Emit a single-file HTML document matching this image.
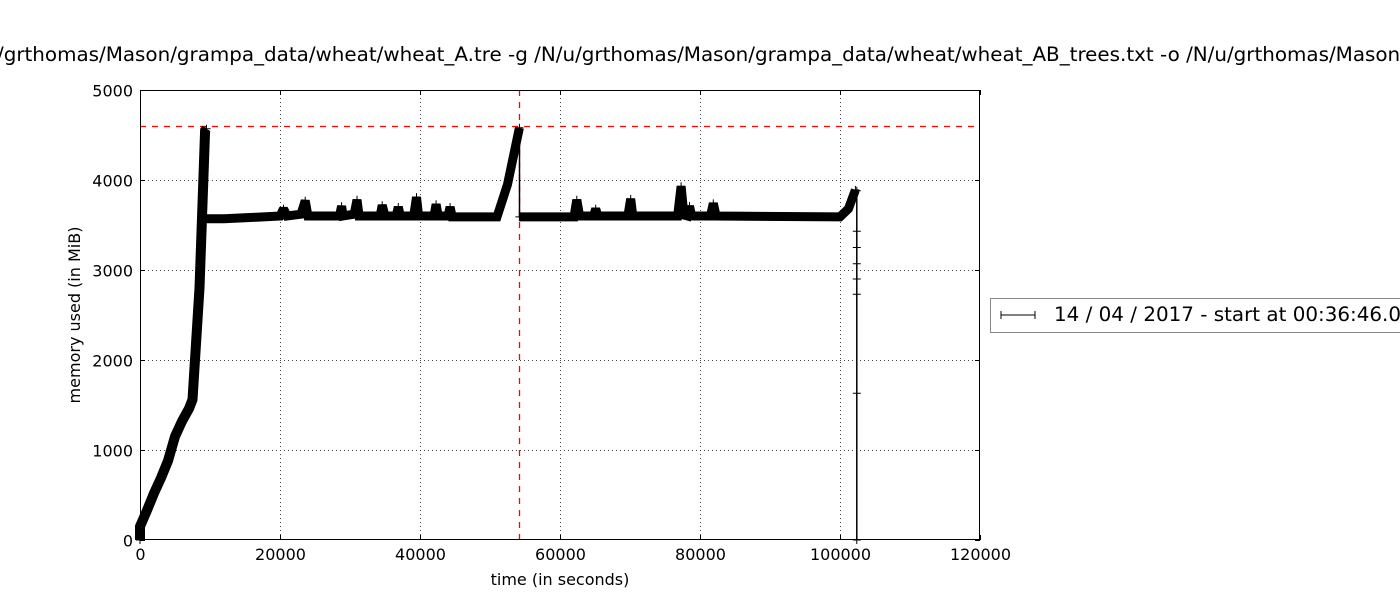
<!DOCTYPE html>
<html><head><meta charset="utf-8"><style>
html,body{margin:0;padding:0;background:#fff;width:1400px;height:600px;overflow:hidden}
text{font-family:"DejaVu Sans","Liberation Sans",sans-serif;fill:#000}
</style></head><body>
<svg id="chart" width="1400" height="600">
<text x="-3" y="61" font-size="19.9">/grthomas/Mason/grampa_data/wheat/wheat_A.tre -g /N/u/grthomas/Mason/grampa_data/wheat/wheat_AB_trees.txt -o /N/u/grthomas/Mason/grampa_data/wheat/out</text>
<g id="grid"></g><g id="marks"></g><g id="axes"></g>
<text x="560" y="585" font-size="16" text-anchor="middle">time (in seconds)</text>
<text transform="translate(80,315) rotate(-90)" font-size="16" text-anchor="middle">memory used (in MiB)</text>
<g>
<rect x="990.5" y="298.5" width="420" height="34" fill="#fff" stroke="#888"/>
<line x1="1001" y1="315" x2="1035" y2="315" stroke="#000"/>
<path d="M1001 311v8M1035 311v8" stroke="#000"/>
<text x="1054" y="321" font-size="19.9">14 / 04 / 2017 - start at 00:36:46.0</text>
</g>
</svg>
<script>
const xTicks=[0,20000,40000,60000,80000,100000,120000];
const yTicks=[0,1000,2000,3000,4000,5000];
const maxMem=4600;
const peakTime=54150;
const seg1T=[0,0,1000,2000,3000,4000,5000,6000,7000,7500,8500,9300,9500];
const seg1M=[0,150,330,520,690,880,1150,1320,1460,1560,2800,4550,4570];
const seg1bT=[9450,12000,15000,20000,20500,21000,23000,23600,24000,28500,28800,29000,30600,31000,31300,34300,34600,35000,36600,36900,37200,39100,39500,39800,42000,42300,42600,44000,44300,44600,51000,52500,54200];
const seg1bM=[3570,3570,3580,3600,3680,3600,3620,3770,3600,3600,3710,3600,3620,3780,3600,3600,3720,3600,3600,3700,3600,3600,3810,3600,3600,3730,3600,3600,3700,3590,3590,3950,4580];
const seg2T=[54200,62000,62400,62800,64800,65100,65400,69700,70100,70400,76800,77300,77700,78200,78500,78800,81500,81900,82300,100000,101200,102200];
const seg2M=[3590,3590,3780,3600,3600,3680,3600,3600,3790,3600,3600,3930,3610,3600,3710,3600,3600,3740,3600,3590,3680,3890];
const dropT=[102400,102400,102400,102400,102400,102400,102400,102400];
const dropM=[3880,3430,3250,3070,2900,2730,1630,0];
const X0=140,X1=980,Y0=540,Y1=90;
const xs=v=>X0+(v-0)/120000*(X1-X0);
const ys=v=>Y0-(v-0)/5000*(Y0-Y1);
const NS="http://www.w3.org/2000/svg";
function mk(tag,attrs,parent){const e=document.createElementNS(NS,tag);for(const k in attrs)e.setAttribute(k,attrs[k]);parent.appendChild(e);return e;}
const grid=document.getElementById('grid'),marks=document.getElementById('marks'),axes=document.getElementById('axes');
xTicks.forEach(t=>{const x=Math.round(xs(t))+0.5;
 if(t>0&&t<120000){const g=mk('line',{x1:x,y1:Y1,x2:x,y2:Y0,stroke:'#444','stroke-dasharray':'1,3'},grid);
 
 }
 const tk=mk('path',{d:`M${x} ${Y0}v-5M${x} ${Y1}v5`,stroke:'#000'},axes);
 
 
 const l=mk('text',{x:x,y:560,'font-size':16,'text-anchor':'middle'},axes);l.textContent=t;
 
 });
yTicks.forEach(t=>{const y=Math.round(ys(t))+0.5;
 if(t>0&&t<5000){const g=mk('line',{x1:X0,y1:y,x2:X1,y2:y,stroke:'#444','stroke-dasharray':'1,3'},grid);
 
 }
 const tk=mk('path',{d:`M${X0} ${y}h5M${X1} ${y}h-5`,stroke:'#000'},axes);
 
 
 const l=mk('text',{x:133,y:y+6,'font-size':16,'text-anchor':'end'},axes);l.textContent=t;
 
 });
const fr=mk('rect',{x:X0+0.5,y:Y1+0.5,width:X1-X0-1,height:Y0-Y1-1,fill:'none',stroke:'#000'},axes);


const hy=Math.round(ys(maxMem))+0.5, vx=Math.round(xs(peakTime))+0.5;
const hl=mk('line',{x1:X0,x2:X1,y1:hy,y2:hy,stroke:'#f00','stroke-width':1.3,'stroke-dasharray':'6,6'},marks);


const vl=mk('line',{x1:vx,x2:vx,y1:Y1,y2:Y0,stroke:'#f00','stroke-width':1.3,'stroke-dasharray':'6,6'},marks);


function series(T,M,w,name){
 const pts=T.map((t,i)=>xs(t)+','+ys(M[i])).join(' ');
 const p=mk('polyline',{points:pts,fill:'none',stroke:'#000','stroke-width':w,'stroke-linejoin':'miter','stroke-miterlimit':2},marks);
 
 
 T.forEach((t,i)=>{const x=xs(t),y=ys(M[i]);
  const m=mk('path',{d:`M${x-4} ${y}h8M${x} ${y-4}v8`,stroke:'#000'},marks);
  
  });
}
series(seg1T,seg1M,10,'memory-series-part1');
series(seg1bT,seg1bM,9,'memory-series-part2');
series(seg2T,seg2M,9,'memory-series-part3');
series(dropT,dropM,1.5,'memory-series-drop');
const c=mk('line',{x1:xs(seg1T[12]),y1:ys(seg1M[12]),x2:xs(seg1bT[0]),y2:ys(seg1bM[0]),stroke:'#000'},marks);


const c2=mk('line',{x1:vx,y1:ys(seg1bM[seg1bM.length-1]),x2:vx,y2:ys(seg2M[0]),stroke:'#000','stroke-width':1.5},marks);


</script>
</body></html>
